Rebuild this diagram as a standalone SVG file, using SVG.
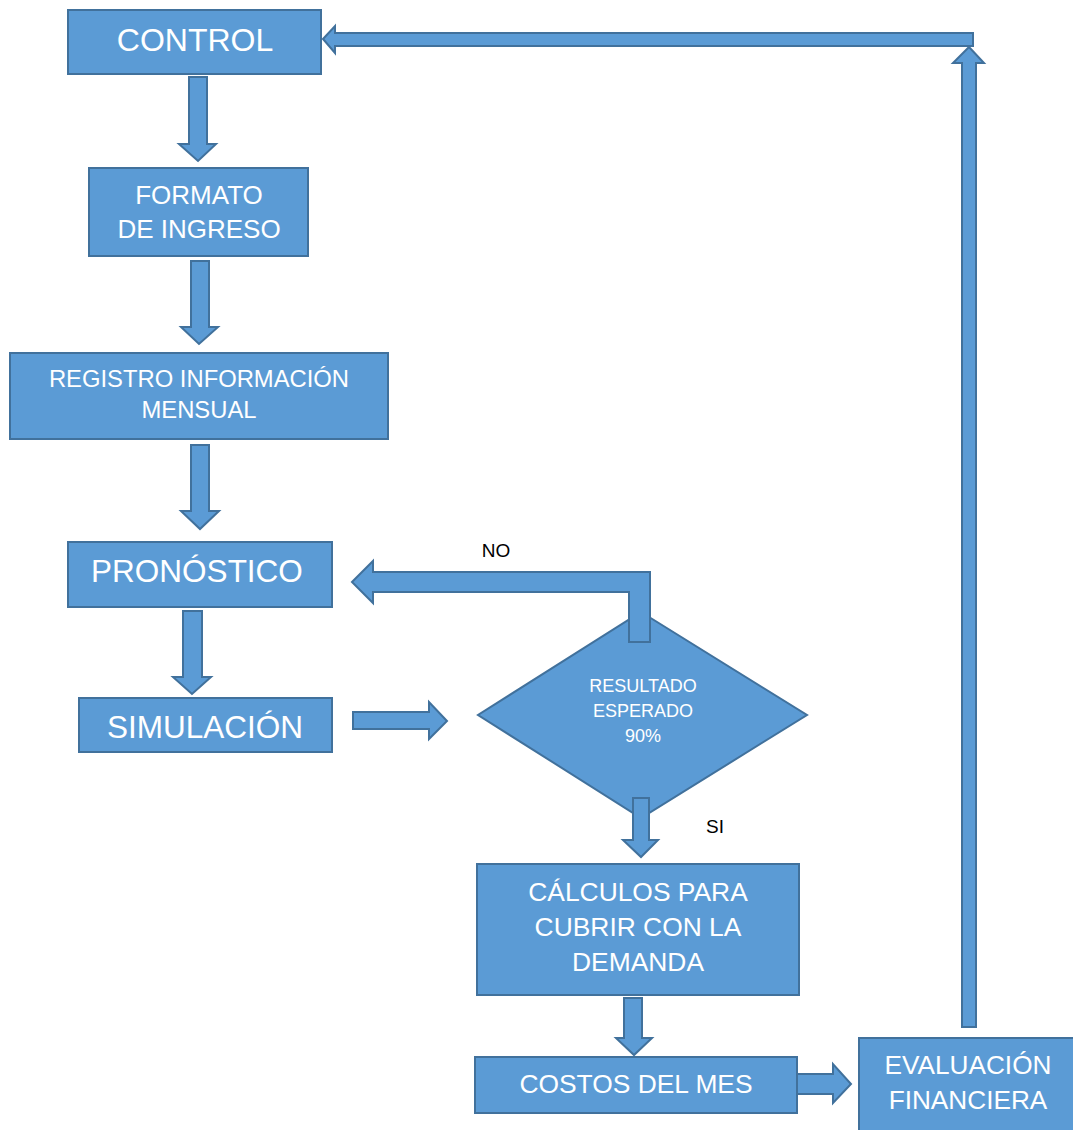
<svg xmlns="http://www.w3.org/2000/svg" width="1073" height="1130" viewBox="0 0 1073 1130">
  <style>
    .box { fill: #5B9BD5; stroke: #41719C; stroke-width: 2; }
    .arrow { fill: #5B9BD5; stroke: #41719C; stroke-width: 2; stroke-linejoin: miter; }
    .t { font-family: "Liberation Sans", Arial, sans-serif; fill: #FFFFFF; text-anchor: middle; }
    .lbl { font-family: "Liberation Sans", Arial, sans-serif; fill: #000000; text-anchor: middle; font-size: 19px; }
  </style>
  <rect width="1073" height="1130" fill="#FFFFFF"/>

  <g id="nodes">
    <g id="control">
      <rect class="box" x="68" y="10" width="253" height="64"/>
      <text class="t" x="195" y="51" font-size="32">CONTROL</text>
    </g>
    <g id="formato">
      <rect class="box" x="89" y="168" width="219" height="88"/>
      <text class="t" x="199" y="204" font-size="26">FORMATO</text>
      <text class="t" x="199" y="238" font-size="26">DE INGRESO</text>
    </g>
    <g id="registro">
      <rect class="box" x="10" y="353" width="378" height="86"/>
      <text class="t" x="199" y="387" font-size="23.8">REGISTRO INFORMACIÓN</text>
      <text class="t" x="199" y="418" font-size="23.8">MENSUAL</text>
    </g>
    <g id="pronostico">
      <rect class="box" x="68" y="542" width="264" height="65"/>
      <text class="t" x="197" y="582" font-size="31.5">PRONÓSTICO</text>
    </g>
    <g id="simulacion">
      <rect class="box" x="79" y="698" width="253" height="54"/>
      <text class="t" x="205" y="738" font-size="31.5">SIMULACIÓN</text>
    </g>
    <g id="decision">
      <polygon class="box" points="641,612 807,715 641,818 478,715"/>
      <text class="t" x="643" y="692" font-size="18">RESULTADO</text>
      <text class="t" x="643" y="717" font-size="18">ESPERADO</text>
      <text class="t" x="643" y="742" font-size="18">90%</text>
    </g>
    <g id="calculos">
      <rect class="box" x="477" y="864" width="322" height="131"/>
      <text class="t" x="638" y="901" font-size="26.4">CÁLCULOS PARA</text>
      <text class="t" x="638" y="936" font-size="26.4">CUBRIR CON LA</text>
      <text class="t" x="638" y="971" font-size="26.4">DEMANDA</text>
    </g>
    <g id="costos">
      <rect class="box" x="475" y="1057" width="322" height="56"/>
      <text class="t" x="636" y="1093" font-size="26.4">COSTOS DEL MES</text>
    </g>
    <g id="evaluacion">
      <rect class="box" x="859" y="1038" width="220" height="100"/>
      <text class="t" x="968" y="1074" font-size="26.2">EVALUACIÓN</text>
      <text class="t" x="968" y="1109" font-size="26.2">FINANCIERA</text>
    </g>
  </g>

  <g id="connectors">
    <!-- control to formato -->
    <polygon class="arrow" points="189,77 207,77 207,144 216,144 198,161 179,144 189,144"/>
    <!-- formato to registro -->
    <polygon class="arrow" points="191,261 209,261 209,327 218,327 199,344 181,327 191,327"/>
    <!-- registro to pronostico -->
    <polygon class="arrow" points="191,445 209,445 209,511 219,511 200,529 181,511 191,511"/>
    <!-- pronostico to simulacion -->
    <polygon class="arrow" points="183,611 202,611 202,677 211,677 192,694 173,677 183,677"/>
    <!-- simulacion to decision -->
    <polygon class="arrow" points="353,712 429,712 429,702 447,721 429,739 429,729 353,729"/>
    <!-- NO branch back to pronostico -->
    <polygon class="arrow" points="352,582 373,561 373,572 650,572 650,642 629,642 629,592 373,592 373,603"/>
    <!-- SI branch to calculos -->
    <polygon class="arrow" points="633,798 649,798 649,840 658,840 641,857 623,840 633,840"/>
    <!-- calculos to costos -->
    <polygon class="arrow" points="624,998 642,998 642,1038 652,1038 634,1055 616,1038 624,1038"/>
    <!-- costos to evaluacion -->
    <polygon class="arrow" points="797,1074 833,1074 833,1064 851,1084 833,1103 833,1094 797,1094"/>
    <!-- evaluacion up the right side -->
    <polygon class="arrow" points="962,1027 976,1027 976,63 984,63 969,47 953,63 962,63"/>
    <!-- across the top back to control -->
    <polygon class="arrow" points="323,39 335,26 335,33 973,33 973,46 335,46 335,53"/>
  </g>

  <g id="labels">
    <text class="lbl" x="496" y="557">NO</text>
    <text class="lbl" x="715" y="833">SI</text>
  </g>
</svg>
